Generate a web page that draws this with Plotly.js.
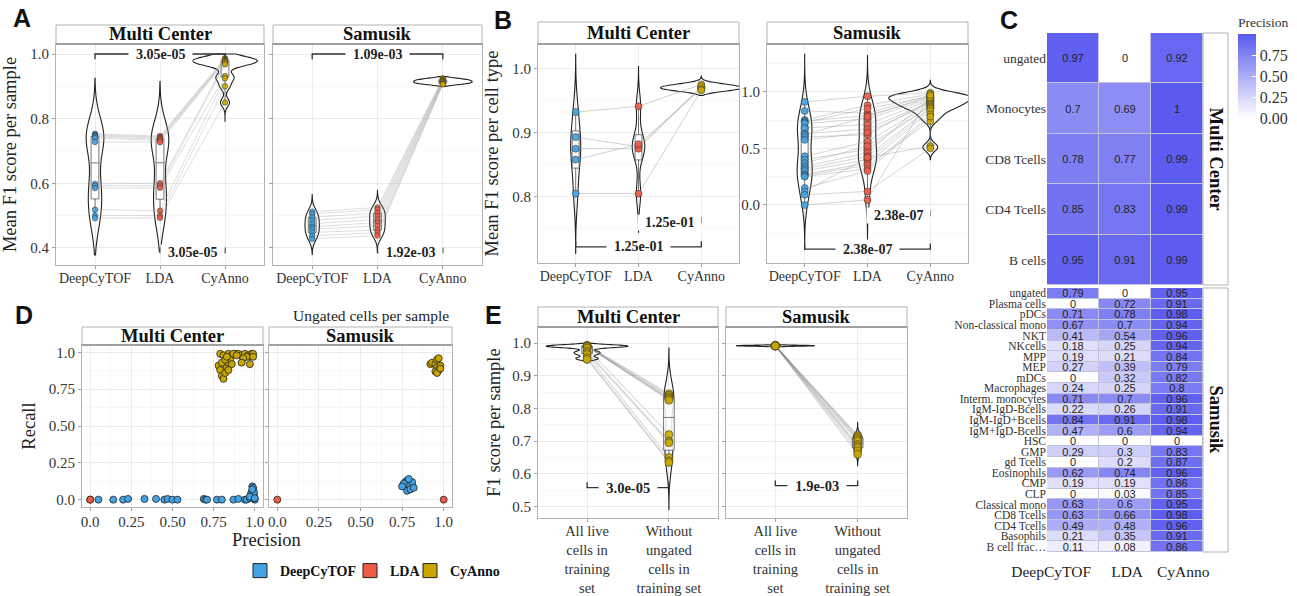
<!DOCTYPE html>
<html><head><meta charset="utf-8">
<script src="https://cdn.plot.ly/plotly-3.0.1.min.js"></script>
<style>html,body{margin:0;padding:0;background:#fff;}#chart{width:1297px;height:596px;}</style>
</head><body><div id="chart"></div>
<script>
// ================= DATA =================
const methods = ["DeepCyTOF", "LDA", "CyAnno"];
const facets = ["Multi Center", "Samusik"];

// Panel A: mean F1 score per sample (paired by index)
const A_MC_DeepCyTOF = [0.753,0.750,0.747,0.744,0.740,0.728,0.598,0.592,0.585,0.518,0.500,0.492];
const A_MC_LDA       = [0.746,0.743,0.740,0.736,0.732,0.727,0.600,0.592,0.586,0.515,0.500,0.493];
const A_MC_CyAnno    = [0.987,0.985,0.982,0.980,0.978,0.975,0.972,0.968,0.932,0.925,0.900,0.850];
const A_S_DeepCyTOF  = [0.512,0.505,0.495,0.485,0.475,0.465,0.458,0.448,0.437,0.428];
const A_S_LDA        = [0.525,0.518,0.508,0.498,0.488,0.478,0.468,0.455,0.447,0.438];
const A_S_CyAnno     = [0.925,0.922,0.920,0.918,0.916,0.914,0.912,0.910,0.908,0.906];
const A_MC_pvals = ["3.05e-05", "3.05e-05"];
const A_S_pvals  = ["1.09e-03", "1.92e-03"];

// Panel B: mean F1 score per cell type (paired by index)
const B_MC_DeepCyTOF = [0.932,0.893,0.875,0.858,0.805];
const B_MC_LDA       = [0.941,0.878,0.875,0.882,0.805];
const B_MC_CyAnno    = [0.975,0.970,0.972,0.968,0.966];
const B_S_DeepCyTOF  = [0.91,0.83,0.75,0.74,0.73,0.72,0.68,0.63,0.62,0.60,0.575,0.43,0.40,0.37,0.34,0.32,0.30,0.27,0.26,0.25,0.15,0.12,0.09,0.0];
const B_S_LDA        = [0.96,0.81,0.88,0.79,0.85,0.76,0.71,0.67,0.78,0.62,0.64,0.56,0.49,0.52,0.46,0.43,0.40,0.37,0.35,0.32,0.30,0.42,0.12,0.045];
const B_S_CyAnno     = [0.99,0.97,0.98,0.95,0.96,0.94,0.93,0.91,0.96,0.92,0.90,0.89,0.88,0.87,0.95,0.86,0.85,0.83,0.74,0.80,0.78,0.52,0.50,0.97];
const B_MC_pvals = ["1.25e-01", "1.25e-01"];
const B_S_pvals  = ["2.38e-07", "2.38e-07"];

// Panel C: precision heatmaps
const C_MC_rows = ["ungated","Monocytes","CD8 Tcells","CD4 Tcells","B cells"];
const C_MC_DeepCyTOF = [0.97,0.7,0.78,0.85,0.95];
const C_MC_LDA       = [0,0.69,0.77,0.83,0.91];
const C_MC_CyAnno    = [0.92,1,0.99,0.99,0.99];
const C_S_rows = ["ungated","Plasma cells","pDCs","Non-classical mono","NKT","NKcells","MPP","MEP","mDCs","Macrophages","Interm. monocytes","IgM-IgD-Bcells","IgM-IgD+Bcells","IgM+IgD-Bcells","HSC","GMP","gd Tcells","Eosinophils","CMP","CLP","Classical mono","CD8 Tcells","CD4 Tcells","Basophils","B cell frac\u2026"];
const C_S_DeepCyTOF = [0.79,0,0.71,0.67,0.41,0.18,0.19,0.27,0,0.24,0.71,0.22,0.84,0.47,0,0.29,0,0.62,0.19,0,0.63,0.63,0.49,0.21,0.11];
const C_S_LDA       = [0,0.72,0.78,0.7,0.54,0.25,0.21,0.39,0.32,0.25,0.7,0.26,0.91,0.6,0,0.3,0.2,0.74,0.19,0.03,0.6,0.66,0.48,0.35,0.08];
const C_S_CyAnno    = [0.95,0.91,0.98,0.94,0.96,0.94,0.84,0.79,0.82,0.8,0.96,0.91,0.98,0.94,0,0.83,0.87,0.96,0.86,0.85,0.95,0.98,0.96,0.91,0.86];
const C_tickvals = [0, 0.25, 0.5, 0.75];
const C_ticktext = ["0.00","0.25","0.50","0.75"];

// Panel D: ungated cells per sample (precision, recall)
const D_MC_DeepCyTOF_prec = [0.05,0.14,0.20,0.23,0.33,0.40,0.45,0.47,0.50,0.53,0.69,0.70,0.71,0.77,0.80,0.87,0.90,0.94,0.95,0.97,0.98,0.98,0.99,0.985,0.99,0.995,1.0,0.99,0.975,0.98,0.995,0.97,0.985,1.0];
const D_MC_DeepCyTOF_rec  = [0.0,0.0,0.0,0.005,0.005,0.005,0.0,0.005,0.0,0.0,0.005,0.0,0.0,0.0,0.0,0.0,0.005,0.0,0.0,0.01,0.02,0.04,0.06,0.09,0.08,0.03,0.0,0.01,0.03,0.05,0.05,0.02,0.07,0.01];
const D_MC_LDA_prec = [0, 0];
const D_MC_LDA_rec  = [0, 0];
const D_MC_CyAnno_prec = [0.79,0.81,0.84,0.86,0.88,0.90,0.92,0.94,0.96,0.98,0.97,0.99,0.95,0.93,0.92,0.97,0.78,0.79,0.80,0.81,0.82,0.83,0.84,0.85,0.86,0.80,0.82,0.84,0.83,0.87,0.89,0.99];
const D_MC_CyAnno_rec  = [0.99,0.98,0.99,0.98,0.99,0.99,0.98,0.99,0.98,0.99,0.97,0.99,0.97,0.96,0.93,0.92,0.91,0.88,0.84,0.82,0.86,0.90,0.93,0.95,0.92,0.93,0.95,0.88,0.97,0.99,0.98,0.97];
const D_S_DeepCyTOF_prec = [0.76,0.77,0.78,0.79,0.80,0.81,0.78,0.79,0.80,0.77,0.79,0.81,0.78,0.80,0.76,0.79,0.75,0.82];
const D_S_DeepCyTOF_rec  = [0.10,0.12,0.13,0.12,0.11,0.10,0.08,0.07,0.09,0.09,0.10,0.12,0.06,0.07,0.11,0.14,0.09,0.08];
const D_S_LDA_prec = [0, 1];
const D_S_LDA_rec  = [0, 0];
const D_S_CyAnno_prec = [0.92,0.93,0.95,0.96,0.97,0.96,0.98,0.97,0.95,0.96,0.98];
const D_S_CyAnno_rec  = [0.92,0.93,0.92,0.95,0.96,0.90,0.91,0.88,0.87,0.86,0.89];
const D_ticks = [0, 0.25, 0.5, 0.75, 1];
const D_ticktext = ["0.0","0.25","0.50","0.75","1.0"];

// Panel E: F1 score per sample, training-set variants (paired by index)
const E_categories = ["All live<br>cells in<br>training<br>set", "Without<br>ungated<br>cells in<br>training set"];
const E_MC_AllLive = [0.993,0.992,0.991,0.990,0.990,0.989,0.985,0.975,0.970,0.965,0.955,0.950];
const E_MC_Without = [0.845,0.840,0.835,0.830,0.830,0.825,0.720,0.700,0.695,0.650,0.640,0.635];
const E_S_AllLive  = [0.993,0.992,0.992,0.991,0.991,0.992,0.993,0.990,0.992,0.991];
const E_S_Without  = [0.718,0.714,0.710,0.705,0.700,0.690,0.685,0.680,0.670,0.660];
const E_MC_pval = "3.0e-05";
const E_S_pval  = "1.9e-03";

// ================= STYLE / LAYOUT =================
const W = 1297, H = 596;
const SERIF = "Liberation Serif, Times New Roman, serif";
const SANS = "Liberation Sans, Arial, sans-serif";
const COLORS = ["#42a2e2", "#ef5c46", "#c9a700"];
const px = (a, b) => [a / W, b / W];
const py = (t, b) => [1 - b / H, 1 - t / H];

const traces = [], shapes = [], annotations = [];
const layout = {
  width: W, height: H, margin: {l: 0, r: 0, t: 0, b: 0},
  paper_bgcolor: "white", plot_bgcolor: "white",
  font: {family: SERIF, color: "#222"},
  violinmode: "overlay", boxmode: "overlay", showlegend: true,
  shapes: shapes, annotations: annotations
};

function AX(n) { const s = n === 1 ? "" : String(n); return {x: "x" + s, y: "y" + s, xk: "xaxis" + s, yk: "yaxis" + s}; }

function base(extra) {
  return Object.assign({
    showline: true, mirror: true, linecolor: "#b3b3b3", linewidth: 1,
    showgrid: true, gridcolor: "#e9e9e9", gridwidth: 0.9, zeroline: false,
    ticks: "outside", ticklen: 3, tickwidth: 0.8, tickcolor: "#8a8a8a",
    tickfont: {family: SERIF, size: 14, color: "#333"}, fixedrange: true
  }, extra);
}
function minorGrid(vals) { return {tickmode: "array", tickvals: vals, showgrid: true, gridcolor: "#f3f3f3", gridwidth: 0.6, ticks: ""}; }

function strip(x0, x1, y0, y1, text) {
  shapes.push({type: "rect", xref: "paper", yref: "paper", x0: x0 / W, x1: x1 / W, y0: 1 - y1 / H, y1: 1 - y0 / H,
    fillcolor: "white", line: {color: "#b3b3b3", width: 1}, layer: "above"});
  shapes.push({type: "line", xref: "paper", yref: "paper", x0: x0 / W, x1: x1 / W, y0: 1 - y1 / H, y1: 1 - y1 / H,
    line: {color: "#8c8c8c", width: 1.6}});
  annotations.push({xref: "paper", yref: "paper", x: (x0 + x1) / 2 / W, y: 1 - (y0 + y1) / 2 / H, text: "<b>" + text + "</b>",
    showarrow: false, font: {family: SERIF, size: 18.5, color: "#111"}, xanchor: "center", yanchor: "middle"});
}
function letter(x, y, t) {
  annotations.push({xref: "paper", yref: "paper", x: x / W, y: 1 - y / H, text: "<b>" + t + "</b>", showarrow: false,
    font: {family: SANS, size: 25, color: "#111"}, xanchor: "center", yanchor: "middle"});
}

function violinPanel(n, series, st) {
  const a = AX(n);
  series.forEach((d, i) => {
    traces.push({type: "violin", xaxis: a.x, yaxis: a.y, x0: i, y: d, width: st.vw[i], bandwidth: st.bw[i],
      spanmode: "manual", span: st.span[i], scalemode: "width", points: false, box: {visible: false},
      meanline: {visible: false}, line: {color: "#222", width: 1.1}, fillcolor: "rgba(255,255,255,0)",
      hoverinfo: "skip", showlegend: false});
    traces.push({type: "box", xaxis: a.x, yaxis: a.y, x0: i, y: d, width: st.bxw, boxpoints: false,
      fillcolor: "rgba(255,255,255,0.85)", line: {color: "#555", width: 0.8}, whiskerwidth: 0,
      hoverinfo: "skip", showlegend: false});
  });
  const nS = series[0].length;
  for (let k = 0; k < nS; k++) {
    traces.push({type: "scatter", mode: "lines", xaxis: a.x, yaxis: a.y, x: series.map((_, i) => i), y: series.map(d => d[k]),
      line: {color: st.lineColor, width: st.lineWidth}, hoverinfo: "skip", showlegend: false});
  }
  series.forEach((d, i) => {
    traces.push({type: "scatter", mode: "markers", xaxis: a.x, yaxis: a.y, x: d.map(() => i), y: d,
      marker: {color: st.colors[i], size: st.ms, opacity: 0.92, line: {color: "#333", width: 0.6}},
      hoverinfo: "skip", showlegend: false});
  });
}

function bracket(n, from, to, y, dir, tick, label, fs) {
  const a = AX(n);
  const yt = y + dir * tick;
  shapes.push({type: "path", xref: a.x, yref: a.y, path: `M ${from},${yt} L ${from},${y} L ${to},${y} L ${to},${yt}`,
    line: {color: "#333", width: 1.3}});
  annotations.push({xref: a.x, yref: a.y, x: (from + to) / 2, y: y, text: "<b>\u00a0\u00a0" + label + "\u00a0\u00a0</b>", showarrow: false,
    bgcolor: "white", borderpad: 0, font: {family: SERIF, size: fs, color: "#222"}, xanchor: "center", yanchor: "middle"});
}

// ---------- Panel A ----------
const catRange = [-0.6, 2.6];
[1, 2].forEach(n => {
  const a = AX(n);
  const xd = n === 1 ? [56, 264] : [273, 482];
  layout[a.xk] = base({domain: px(...xd), anchor: a.y, type: "linear", range: catRange, tickmode: "array", tickvals: [0, 1, 2],
    ticktext: methods, ticklabelstandoff: -3});
  layout[a.yk] = base({domain: py(44, 265), anchor: a.x, range: [0.347, 1.031], tickmode: "array", tickvals: [0.4, 0.6, 0.8, 1.0],
    ticktext: ["0.4", "0.6", "0.8", "1.0"], showticklabels: n === 1, minor: minorGrid([0.5, 0.7, 0.9]),
    tickfont: {family: SERIF, size: 15, color: "#333"}});
});
layout.yaxis.title = {text: "Mean F1 score per sample", font: {family: SERIF, size: 18.5, color: "#222"}, standoff: 8};
violinPanel(1, [A_MC_DeepCyTOF, A_MC_LDA, A_MC_CyAnno], {
  vw: [0.27, 0.27, 1.0], bw: [0.06, 0.058, 0.013], span: [[0.378, 0.925], [0.39, 0.915], [0.79, 1.0]],
  bxw: 0.12, ms: 5.5, colors: COLORS, lineColor: "rgba(150,150,150,0.45)", lineWidth: 0.7});
violinPanel(2, [A_S_DeepCyTOF, A_S_LDA, A_S_CyAnno], {
  vw: [0.22, 0.24, 0.9], bw: [0.018, 0.018, 0.004], span: [[0.38, 0.565], [0.39, 0.578], [0.9, 0.93]],
  bxw: 0.12, ms: 5.5, colors: COLORS, lineColor: "rgba(150,150,150,0.45)", lineWidth: 0.7});
bracket(1, 0, 2, 1.0, -1, 0.016, A_MC_pvals[0], 14);
bracket(1, 1, 2, 0.385, 1, 0.016, A_MC_pvals[1], 14);
bracket(2, 0, 2, 1.0, -1, 0.016, A_S_pvals[0], 14);
bracket(2, 1, 2, 0.385, 1, 0.016, A_S_pvals[1], 14);
strip(56, 264, 25, 44, facets[0]);
strip(273, 482, 25, 44, facets[1]);
letter(22, 18, "A");

// ---------- Panel B ----------
layout.xaxis3 = base({domain: px(538, 739), anchor: "y3", type: "linear", range: catRange, tickmode: "array", tickvals: [0, 1, 2], ticktext: methods, ticklabelstandoff: -3});
layout.yaxis3 = base({domain: py(44, 263), anchor: "x3", range: [0.697, 1.038], tickmode: "array", tickvals: [0.8, 0.9, 1.0],
  ticktext: ["0.8", "0.9", "1.0"], minor: minorGrid([0.75, 0.85, 0.95]), tickfont: {family: SERIF, size: 15, color: "#333"},
  title: {text: "Mean F1 score per cell type", font: {family: SERIF, size: 18.5, color: "#222"}, standoff: 8}});
layout.xaxis4 = base({domain: px(767, 968), anchor: "y4", type: "linear", range: catRange, tickmode: "array", tickvals: [0, 1, 2], ticktext: methods, ticklabelstandoff: -3});
layout.yaxis4 = base({domain: py(44, 263), anchor: "x4", range: [-0.512, 1.421], tickmode: "array", tickvals: [0, 0.5, 1.0],
  ticktext: ["0.0", "0.5", "1.0"], minor: minorGrid([-0.25, 0.25, 0.75, 1.25]), tickfont: {family: SERIF, size: 15, color: "#333"}});
violinPanel(3, [B_MC_DeepCyTOF, B_MC_LDA, B_MC_CyAnno], {
  vw: [0.16, 0.2, 1.3], bw: [0.03, 0.02, 0.004], span: [[0.712, 1.022], [0.745, 1.003], [0.958, 0.988]],
  bxw: 0.11, ms: 7, colors: COLORS, lineColor: "rgba(150,150,150,0.55)", lineWidth: 0.8});
violinPanel(4, [B_S_DeepCyTOF, B_S_LDA, B_S_CyAnno], {
  vw: [0.24, 0.29, 1.32], bw: [0.13, 0.117, 0.035], span: [[-0.39, 1.33], [-0.30, 1.32], [0.40, 1.10]],
  bxw: 0.11, ms: 7, colors: COLORS, lineColor: "rgba(150,150,150,0.5)", lineWidth: 0.8});
bracket(3, 1, 2, 0.760, 1, 0.009, B_MC_pvals[0], 14);
bracket(3, 0, 2, 0.722, 1, 0.009, B_MC_pvals[1], 14);
bracket(4, 1, 2, -0.095, 1, 0.05, B_S_pvals[0], 14);
bracket(4, 0, 2, -0.39, 1, 0.05, B_S_pvals[1], 14);
strip(538, 739, 22, 44, facets[0]);
strip(767, 968, 22, 44, facets[1]);
letter(503, 20, "B");

// ---------- Panel C ----------
const heatScale = [[0, "#ffffff"], [1, "#5a5af0"]];
function heat(n, rows, cols, ydom, showScale, yfs, tfs) {
  const a = AX(n);
  const z = rows.map((_, i) => cols.map(c => c[i]));
  shapes.push({type: "rect", xref: a.x, yref: a.y, x0: -0.5, x1: 2.5, y0: -0.5, y1: rows.length - 0.5,
    fillcolor: "rgba(120,120,170,0.45)", line: {width: 0}, layer: "below"});
  const t = {type: "heatmap", xaxis: a.x, yaxis: a.y, x: methods, y: rows, z: z, zmin: 0, zmax: 1, colorscale: heatScale,
    texttemplate: "%{z}", textfont: {family: SANS, size: tfs, color: "#222"}, xgap: 1, ygap: 1,
    showscale: showScale, hoverinfo: "skip", showlegend: false};
  if (showScale) {
    t.colorbar = {x: 1238 / W, xanchor: "left", y: 1 - 14 / H, yanchor: "top", len: (118 - 14) / H, lenmode: "fraction",
      thickness: 18, thicknessmode: "pixels", outlinewidth: 0, tickmode: "array", tickvals: C_tickvals, ticktext: C_ticktext,
      ticks: "inside", tickcolor: "white", ticklen: 4, tickfont: {family: SERIF, size: 16, color: "#333"},
      title: {text: "Precision", side: "top", font: {family: SERIF, size: 13.5, color: "#333"}}, xpad: 0, ypad: 0};
  }
  traces.push(t);
  layout[a.xk] = {domain: px(1047, 1203), anchor: a.y, type: "category", range: [-0.5, 2.5], showgrid: false, showline: false,
    zeroline: false, ticks: n === 6 ? "outside" : "", ticklen: 5, tickcolor: "rgba(0,0,0,0)", showticklabels: n === 6,
    tickmode: "array", tickvals: [-0.42, 1.04, 2.12], ticktext: methods,
    tickangle: 0, tickfont: {family: SERIF, size: 15.5, color: "#222"}, fixedrange: true};
  layout[a.yk] = {domain: py(...ydom), anchor: a.x, type: "category", range: [rows.length - 0.5, -0.5], showgrid: false,
    showline: false, zeroline: false, ticks: "", tickmode: "array", tickvals: rows, ticktext: rows,
    tickfont: {family: SERIF, size: yfs, color: "#333"}, fixedrange: true};
}
heat(5, C_MC_rows, [C_MC_DeepCyTOF, C_MC_LDA, C_MC_CyAnno], [33, 285], true, 13.5, 11);
heat(6, C_S_rows, [C_S_DeepCyTOF, C_S_LDA, C_S_CyAnno], [288, 552], false, 11.5, 11);
[[33, 285, facets[0]], [288, 552, facets[1]]].forEach(s => {
  shapes.push({type: "rect", xref: "paper", yref: "paper", x0: 1203 / W, x1: 1228 / W, y0: 1 - s[1] / H, y1: 1 - s[0] / H,
    fillcolor: "white", line: {color: "#b3b3b3", width: 1}});
  annotations.push({xref: "paper", yref: "paper", x: 1215.5 / W, y: 1 - (s[0] + s[1]) / 2 / H, text: "<b>" + s[2] + "</b>",
    textangle: 90, showarrow: false, font: {family: SERIF, size: 18.5, color: "#111"}, xanchor: "center", yanchor: "middle"});
});
letter(1009, 20, "C");

// ---------- Panel D ----------
[7, 8].forEach(n => {
  const a = AX(n);
  const xd = n === 7 ? [82, 263] : [269, 452];
  layout[a.xk] = base({domain: px(...xd), anchor: a.y, range: [-0.05, 1.05], tickmode: "array", tickvals: D_ticks, ticktext: D_ticktext,
    minor: minorGrid([0.125, 0.375, 0.625, 0.875]), tickfont: {family: SERIF, size: 15, color: "#333"}, ticklabelstandoff: -2});
  layout[a.yk] = base({domain: py(345, 507), anchor: a.x, range: [-0.05, 1.05], tickmode: "array", tickvals: D_ticks, ticktext: D_ticktext,
    showticklabels: n === 7, minor: minorGrid([0.125, 0.375, 0.625, 0.875]), tickfont: {family: SERIF, size: 15, color: "#333"}});
});
layout.yaxis7.title = {text: "Recall", font: {family: SERIF, size: 18.5, color: "#222"}, standoff: 8};
function dPoints(n, xs, ys, color) {
  const a = AX(n);
  traces.push({type: "scatter", mode: "markers", xaxis: a.x, yaxis: a.y, x: xs, y: ys,
    marker: {color: color, size: 7, line: {color: "#222", width: 0.8}}, hoverinfo: "skip", showlegend: false, cliponaxis: false});
}
dPoints(7, D_MC_DeepCyTOF_prec, D_MC_DeepCyTOF_rec, COLORS[0]);
dPoints(7, D_MC_LDA_prec, D_MC_LDA_rec, COLORS[1]);
dPoints(7, D_MC_CyAnno_prec, D_MC_CyAnno_rec, COLORS[2]);
dPoints(8, D_S_DeepCyTOF_prec, D_S_DeepCyTOF_rec, COLORS[0]);
dPoints(8, D_S_LDA_prec, D_S_LDA_rec, COLORS[1]);
dPoints(8, D_S_CyAnno_prec, D_S_CyAnno_rec, COLORS[2]);
strip(82, 263, 327, 345, facets[0]);
strip(269, 452, 327, 345, facets[1]);
annotations.push({xref: "paper", yref: "paper", x: 266 / W, y: 1 - 540 / H, text: "Precision", showarrow: false,
  font: {family: SERIF, size: 18.5, color: "#222"}, xanchor: "center", yanchor: "middle"});
annotations.push({xref: "paper", yref: "paper", x: 451 / W, y: 1 - 315 / H, text: "Ungated cells per sample", showarrow: false,
  font: {family: SERIF, size: 15.5, color: "#222"}, xanchor: "right", yanchor: "middle"});
letter(24, 315, "D");
// one legend box per method, so the entries sit close together like the reference
const legendX = [240, 350, 410];
methods.forEach((m, i) => {
  const key = i === 0 ? "legend" : "legend" + (i + 1);
  traces.push({type: "scatter", mode: "markers", xaxis: "x7", yaxis: "y7", x: [null], y: [null], name: "<b>" + m + "</b>",
    legend: key, marker: {symbol: "square", size: 14, color: COLORS[i], line: {color: "#222", width: 1}}, showlegend: true, hoverinfo: "skip"});
  layout[key] = {orientation: "h", x: legendX[i] / W, y: 1 - 571 / H, xanchor: "left", yanchor: "middle", bgcolor: "rgba(0,0,0,0)",
    font: {family: SERIF, size: 14, color: "#111"}, itemwidth: 30, borderwidth: 0};
});

// ---------- Panel E ----------
[9, 10].forEach(n => {
  const a = AX(n);
  const xd = n === 9 ? [538, 718] : [726, 907];
  layout[a.xk] = base({domain: px(...xd), anchor: a.y, type: "linear", range: [-0.6, 1.6], tickmode: "array", tickvals: [0, 1],
    ticktext: E_categories, tickfont: {family: SERIF, size: 14.5, color: "#333"}, ticklabelstandoff: -3});
  layout[a.yk] = base({domain: py(327, 518), anchor: a.x, range: [0.465, 1.049], tickmode: "array", tickvals: [0.5, 0.6, 0.7, 0.8, 0.9, 1.0],
    ticktext: ["0.5", "0.6", "0.7", "0.8", "0.9", "1.0"], showticklabels: n === 9, minor: minorGrid([0.55, 0.65, 0.75, 0.85, 0.95]),
    tickfont: {family: SERIF, size: 15, color: "#333"}});
});
layout.yaxis9.title = {text: "F1 score per sample", font: {family: SERIF, size: 18.5, color: "#222"}, standoff: 6};
violinPanel(9, [E_MC_AllLive, E_MC_Without], {
  vw: [1.0, 0.12], bw: [0.004, 0.047], span: [[0.94, 0.999], [0.49, 0.985]],
  bxw: 0.13, ms: 8, colors: [COLORS[2], COLORS[2]], lineColor: "rgba(110,110,110,0.35)", lineWidth: 1});
violinPanel(10, [E_S_AllLive, E_S_Without], {
  vw: [0.95, 0.12], bw: [0.0012, 0.012], span: [[0.987, 0.997], [0.625, 0.757]],
  bxw: 0.13, ms: 8, colors: [COLORS[2], COLORS[2]], lineColor: "rgba(110,110,110,0.35)", lineWidth: 1});
bracket(9, 0, 1, 0.558, 1, 0.016, E_MC_pval, 14.5);
bracket(10, 0, 1, 0.564, 1, 0.016, E_S_pval, 14.5);
strip(538, 718, 307, 327, facets[0]);
strip(726, 907, 307, 327, facets[1]);
letter(493, 315, "E");

Plotly.newPlot("chart", traces, layout, {staticPlot: true, displayModeBar: false});
</script></body></html>
